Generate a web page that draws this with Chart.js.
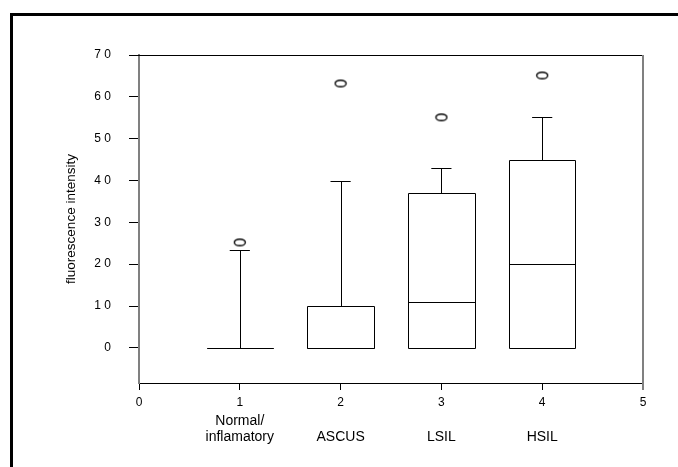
<!DOCTYPE html>
<html>
<head>
<meta charset="utf-8">
<script src="https://cdn.jsdelivr.net/npm/chart.js@4/dist/chart.umd.min.js"></script>
<style>
	body { margin: 0; background: #fff; overflow: hidden; }
	#wrap { position: relative; width: 678px; height: 467px; }
	#frame { position: absolute; left: 10px; top: 13px; width: 700px; height: 500px; border: 3px solid #000; pointer-events: none; }
</style>
</head>
<body>
<div id="wrap">
	<canvas id="chart" width="678" height="467"></canvas>
	<div id="frame"></div>
</div>
<script>
const positions = [ 1, 2, 3, 4 ];
const groupNames = [ [ 'Normal/', 'inflamatory' ], [ 'ASCUS' ], [ 'LSIL' ], [ 'HSIL' ] ];
const lowWhisker = [ 0, 0, 0, 0 ];
const q1 = [ 0, 0, 0, 0 ];
const median = [ 0, 0, 10.9, 20.1 ];
const q3 = [ 0, 10, 37, 45 ];
const highWhisker = [ 23.3, 40, 43, 55.3 ];
const outliers = [ 25.2, 63.2, 55.1, 65.1 ];
const yTicks = [ 0, 10, 20, 30, 40, 50, 60, 70 ];

// ellipse used as point style for outliers
const ring = document.createElement('canvas');
ring.width = 14;
ring.height = 10;
const rctx = ring.getContext('2d');
rctx.strokeStyle = '#000';
rctx.lineWidth = 1.4;
rctx.beginPath();
rctx.ellipse(7, 5, 5.5, 3.3, 0, 0, Math.PI * 2);
rctx.stroke();

const boxPlugin = {
	id: 'boxes',
	afterDatasetsDraw(chart) {
		const { ctx, scales: { x, y } } = chart;
		const half = 0.33;
		const capHalf = 0.1;
		ctx.save();
		ctx.strokeStyle = '#000';
		ctx.lineWidth = 1;
		positions.forEach((p, i) => {
			const l = Math.round(x.getPixelForValue(p - half)) + 0.5;
			const r = Math.round(x.getPixelForValue(p + half)) + 0.5;
			const c = Math.round(x.getPixelForValue(p)) + 0.5;
			const top = Math.round(y.getPixelForValue(q3[i])) + 0.5;
			const bot = Math.round(y.getPixelForValue(q1[i])) + 0.5;
			const med = Math.round(y.getPixelForValue(median[i])) + 0.5;
			const hi = Math.round(y.getPixelForValue(highWhisker[i])) + 0.5;
			const lo = Math.round(y.getPixelForValue(lowWhisker[i])) + 0.5;
			ctx.beginPath();
			ctx.rect(l, top, r - l, bot - top);
			ctx.moveTo(l, med);
			ctx.lineTo(r, med);
			ctx.moveTo(c, top);
			ctx.lineTo(c, hi);
			ctx.moveTo(x.getPixelForValue(p - capHalf), hi);
			ctx.lineTo(x.getPixelForValue(p + capHalf), hi);
			if (lo > bot) {
				ctx.moveTo(c, bot);
				ctx.lineTo(c, lo);
			}
			ctx.stroke();
		});
		// top and right frame
		const { left, right, top, bottom } = chart.chartArea;
		ctx.beginPath();
		ctx.moveTo(left - 10, Math.round(top) + 0.5);
		ctx.lineTo(right, Math.round(top) + 0.5);
		ctx.stroke();
		ctx.strokeStyle = '#808080';
		ctx.lineWidth = 2;
		ctx.beginPath();
		ctx.moveTo(right, top);
		ctx.lineTo(right, bottom + 7);
		ctx.stroke();
		// group names under the tick numbers
		ctx.fillStyle = '#000';
		ctx.font = '14px Arial, "Liberation Sans", sans-serif';
		ctx.textAlign = 'center';
		ctx.textBaseline = 'middle';
		positions.forEach((p, i) => {
			const names = groupNames[i];
			const px = x.getPixelForValue(p);
			names.forEach((t, k) => {
				ctx.fillText(t, px, 437 - (names.length - 1 - k) * 16);
			});
		});
		ctx.restore();
	}
};

new Chart(document.getElementById('chart'), {
	type: 'scatter',
	data: {
		datasets: [
			{
				data: positions.map((p, i) => ({ x: p, y: outliers[i] })),
				pointStyle: ring,
				pointRadius: 5
			}
		]
	},
	options: {
		responsive: false,
		animation: false,
		layout: { padding: { left: 60, top: 55, right: 35, bottom: 0 } },
		plugins: { legend: { display: false }, tooltip: { enabled: false } },
		scales: {
			x: {
				type: 'linear',
				min: 0,
				max: 5,
				afterFit: (s) => { s.height = 84; },
				grid: { drawOnChartArea: false, tickLength: 7, color: '#000' },
				border: { color: '#000', width: 1 },
				ticks: {
					stepSize: 1,
					padding: 5,
					color: '#000',
					font: { family: 'Arial, "Liberation Sans", sans-serif', size: 12 }
				}
			},
			y: {
				min: -8.4,
				max: 70,
				afterFit: (s) => { s.width = 79; },
				afterBuildTicks: (s) => { s.ticks = yTicks.map((v) => ({ value: v })); },
				grid: { drawOnChartArea: false, tickLength: 10, tickColor: '#000' },
				border: { color: '#808080', width: 2 },
				title: {
					display: true,
					text: 'fluorescence intensity',
					color: '#000',
					padding: { top: 3, bottom: 4 },
					font: { family: 'Arial, "Liberation Sans", sans-serif', size: 13.5 }
				},
				ticks: {
					padding: 18,
					color: '#000',
					font: { family: 'Arial, "Liberation Sans", sans-serif', size: 12 },
					callback: (v) => String(v).split('').join(' ')
				}
			}
		}
	},
	plugins: [ boxPlugin ]
});
</script>
</body>
</html>
